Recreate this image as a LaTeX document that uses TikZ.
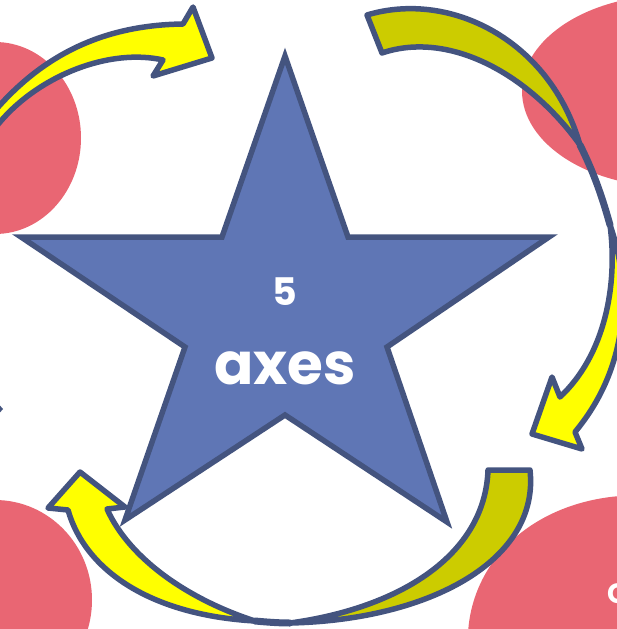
\documentclass[tikz,border=0pt]{standalone}
\usepackage{fontspec}
\setsansfont{Poppins}
\usepackage{tikz}
\usetikzlibrary{positioning}
\definecolor{blob}{HTML}{E96673}
\definecolor{starfill}{HTML}{5F76B5}
\definecolor{edge}{HTML}{44547F}
\definecolor{ribbon}{HTML}{FFFF00}
\definecolor{ribbonback}{HTML}{CCCC00}
\tikzset{blobfill/.style={fill=blob},front/.style={fill=ribbon,draw=edge,line width=5.5pt,line join=round},back/.style={fill=ribbonback,draw=edge,line width=5.5pt,line join=round},twist/.style={draw=edge,line width=7pt,line cap=round},starshape/.style={fill=starfill,draw=edge,line width=5.5pt,line join=miter},label/.style={text=white,inner sep=0pt}}

\begin{document}
\begin{tikzpicture}[x=1pt,y=-1pt]
 \useasboundingbox (0,0) rectangle (617,629);
 \clip (0,0) rectangle (617,629);
 \fill[blobfill] (-5,138) ellipse [x radius=86, y radius=96];
 \fill[blobfill] (672,91) ellipse [x radius=150, y radius=96];
 \fill[blobfill] (-5,600) ellipse [x radius=97, y radius=100];
 \fill[blobfill,rotate around={-20:(662,662)}] (662,662) ellipse [x radius=198, y radius=162];
 \node[label,anchor=west,font=\sffamily\bfseries\fontsize{28}{28}\selectfont] (cfrag) at (607,594) {C};
 \fill[edge] (-4,401) -- (3,409) -- (-4,417) -- cycle;
 \draw[front] (-9,115) -- (0,105) .. controls (50,50) and (110,25) .. (183,24) -- (193,7) -- (212,58) -- (153,76) -- (163,60) .. controls (110,48) and (40,75) .. (0,122) -- (-9,133) -- cycle;
 \draw[back] (367,15) .. controls (450,-10) and (550,40) .. (580,145) .. controls (530,75) and (450,30) .. (382,53) -- cycle;
 \draw[front] (610,225) .. controls (628,275) and (635,360) .. (575,432) -- (582,449) -- (532,434) -- (552,377) -- (560,397) .. controls (605,355) and (618,285) .. (610,225) -- cycle;
 \draw[twist] (580,145) .. controls (595,175) and (603,200) .. (610,225);
 \draw[back] (488,470) -- (530,470) .. controls (540,560) and (430,620) .. (290,623) .. controls (400,608) and (485,555) .. (488,470) -- cycle;
 \draw[front] (255,621) .. controls (150,615) and (85,570) .. (68,510) -- (48,508) -- (80,472) -- (125,507) -- (107,509) .. controls (130,560) and (190,600) .. (255,621) -- cycle;
 \draw[twist] (290,623) .. controls (278,623) and (266,622) .. (255,621);
 \draw[starshape] (285,56) -- (348,237) -- (549,237) -- (387,347) -- (447,522) -- (285,415) -- (125,520) -- (185,347) -- (21,237) -- (222,237) -- cycle;
 \node[label,font=\sffamily\bfseries\fontsize{38}{38}\selectfont] (num) at (285,292) {5};
 \node[label,font=\sffamily\bfseries\fontsize{58}{58}\selectfont] (word) at (285,368) {axes};
\end{tikzpicture}
\end{document}
